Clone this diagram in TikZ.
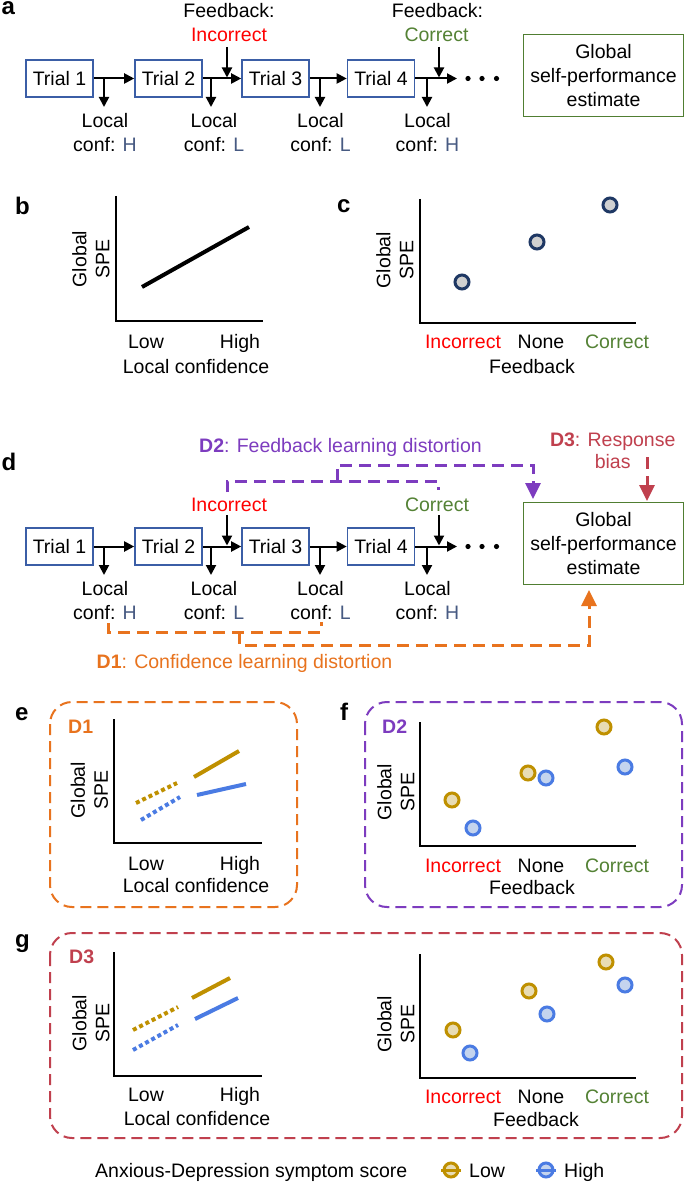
\documentclass[tikz,border=0pt]{standalone}
\usepackage{fontspec}
\setmainfont{Liberation Sans}
\usetikzlibrary{arrows.meta}
\definecolor{trialblue}{HTML}{3B5EA6}
\definecolor{hl}{HTML}{475A82}
\definecolor{fbred}{HTML}{FF0000}
\definecolor{fbgreen}{HTML}{548235}
\definecolor{gboxc}{HTML}{507E32}
\definecolor{dpurple}{HTML}{7D3CBF}
\definecolor{dorange}{HTML}{E8731E}
\definecolor{dcrimson}{HTML}{C0404E}
\definecolor{navy}{HTML}{1F3864}
\definecolor{dotgray}{HTML}{D0D0D0}
\definecolor{gold}{HTML}{BF9000}
\definecolor{goldfill}{HTML}{E8DCB4}
\definecolor{lblue}{HTML}{4A7BE3}
\definecolor{lbluefill}{HTML}{C4D4EE}
\newcommand\fs{\fontsize{19.5}{24}\selectfont}
\newcommand\fsr{\fontsize{19.5}{23}\selectfont}
\newcommand\panelfont{\fontsize{24}{28}\selectfont\bfseries}
\newcommand\trialrow[1]{%
  \node[trial] (#1t1) at (59.5,78.5) {Trial 1};
  \node[trial] (#1t2) at (168.5,78.5) {Trial 2};
  \node[trial] (#1t3) at (275.5,78.5) {Trial 3};
  \node[trial] (#1t4) at (381,78.5) {Trial 4};
  \coordinate (#1e) at (457,78.5);
  \draw[arr] (#1t1.east) -- (#1t2.west);
  \draw[arr] (#1t2.east) -- (#1t3.west);
  \draw[arr] (#1t3.east) -- (#1t4.west);
  \draw[arr] (#1t4.east) -- (#1e);
  \foreach \xx/\nn in {104/1,211/2,320/3,427/4}{
    \coordinate (#1s\nn) at (\xx,78.5);
    \coordinate (#1u\nn) at (\xx,107);
    \draw[arr] (#1s\nn) -- (#1u\nn);
  }
  \node[txt,align=center] (#1l1) at (105,133) {Local\\conf: \textcolor{hl}{H}};
  \node[txt,align=center] (#1l2) at (214,133) {Local\\conf: \textcolor{hl}{L}};
  \node[txt,align=center] (#1l3) at (320.5,133) {Local\\conf: \textcolor{hl}{L}};
  \node[txt,align=center] (#1l4) at (427.5,133) {Local\\conf: \textcolor{hl}{H}};
  \coordinate (#1fa) at (227,47);
  \coordinate (#1fb) at (227,77.5);
  \coordinate (#1fc) at (439,47);
  \coordinate (#1fd) at (439,77.5);
  \draw[arr] (#1fa) -- (#1fb);
  \draw[arr] (#1fc) -- (#1fd);
  \foreach \xx in {468,482,496.5}{\fill (\xx,78.5) circle[radius=2.6];}
  \node[gbox] (#1g) at (603.5,75.5) {Global\\self-performance\\estimate};
}
\begin{document}
\begin{tikzpicture}[x=1pt,y=-1pt,
  txt/.style={inner sep=0pt,font=\fs},
  btxt/.style={inner sep=0pt,font=\fs,anchor=base},
  rtxt/.style={inner sep=0pt,font=\fsr,align=center,rotate=90},
  plbl/.style={inner sep=0pt,font=\panelfont,anchor=base west},
  dlbl/.style={inner sep=0pt,font=\fs\bfseries,anchor=base west},
  trial/.style={draw=trialblue,line width=1.6pt,minimum width=67pt,minimum height=37pt,inner sep=0pt,font=\fs},
  gbox/.style={draw=gboxc,line width=1.8pt,minimum width=160pt,minimum height=82pt,inner sep=0pt,font=\fs,align=center},
  arr/.style={line width=2pt,-{Triangle[length=10pt,width=10pt]}},
  axln/.style={line width=2pt},
  darr/.style={line width=3pt,dash pattern=on 12pt off 7pt,-{Triangle[length=16pt,width=15pt]}},
  dline/.style={line width=3pt,dash pattern=on 12pt off 7pt},
  dbox/.style={line width=2pt,dash pattern=on 11pt off 6pt,rounded corners=22pt},
  dotmk/.style={draw=navy,fill=dotgray,line width=3pt},
  lowmk/.style={draw=gold,fill=goldfill,line width=3pt},
  highmk/.style={draw=lblue,fill=lbluefill,line width=3pt},
  lowln/.style={draw=gold,line width=4pt},
  highln/.style={draw=lblue,line width=4pt},
  dotted4/.style={dash pattern=on 4pt off 3pt}
]
\useasboundingbox (0,0) rectangle (685,1182);
\fill[white] (0,0) rectangle (685,1182);

% ---------- panel a ----------
\node[plbl] (pa) at (1.5,15) {a};
\trialrow{a}
\node[btxt] (afb1) at (229,18) {Feedback:};
\node[btxt,text=fbred] (ainc) at (229,42) {Incorrect};
\node[btxt] (afb2) at (437.5,18) {Feedback:};
\node[btxt,text=fbgreen] (acor) at (436.5,42) {Correct};

% ---------- panel b ----------
\node[plbl] (pb) at (15,215) {b};
\draw[axln] (116,196) -- (116,321) -- (263,321);
\draw[line width=4pt] (142,287) -- (249,227);
\node[rtxt] (bgspe) at (91,259) {Global\\SPE};
\node[btxt] (blow) at (146,348) {Low};
\node[btxt] (bhigh) at (240,348) {High};
\node[btxt] (blc) at (196,373) {Local confidence};

% ---------- panel c ----------
\node[plbl] (pc) at (337,213) {c};
\draw[axln] (420,199) -- (420,323) -- (636,323);
\draw[dotmk] (462,282) circle[radius=7];
\draw[dotmk] (537,242) circle[radius=7];
\draw[dotmk] (610,205) circle[radius=7];
\node[rtxt] (cgspe) at (395,260) {Global\\SPE};
\node[btxt,text=fbred] (cinc) at (463,348) {Incorrect};
\node[btxt] (cnone) at (541,348) {None};
\node[btxt,text=fbgreen] (ccor) at (617,348) {Correct};
\node[btxt] (cfb) at (532,373) {Feedback};

% ---------- panel d ----------
\node[plbl] (pd) at (1.5,470) {d};
\begin{scope}[shift={(0,468)}]
\trialrow{d}
\end{scope}
\node[btxt,text=fbred] (dinc) at (229,511) {Incorrect};
\node[btxt,text=fbgreen] (dcor) at (437,511) {Correct};
\node[btxt,text=dpurple] (d2l) at (340.5,452) {\textbf{D2}: Feedback learning distortion};
\node[btxt,text=dorange] (d1l) at (244.5,668) {\textbf{D1}: Confidence learning distortion};
\node[txt,align=center,text=dcrimson,font=\fontsize{19.5}{22.5}\selectfont] (d3l) at (612.7,451) {\textbf{D3}: Response\\bias};
\coordinate (p2a) at (227,492);
\coordinate (p2b) at (438,490);
\coordinate (p2m) at (337,481);
\coordinate (p2e) at (533,499);
\draw[dline,dpurple] (p2a) -- (227,481) -- (438,481) -- (p2b);
\draw[darr,dpurple] (p2m) -- (337,465) -- (533,465) -- (p2e);
\coordinate (p3a) at (647,457);
\coordinate (p3e) at (647,501);
\draw[darr,dcrimson] (p3a) -- (p3e);
\coordinate (p1a) at (108,623);
\coordinate (p1b) at (321,622);
\coordinate (p1m) at (239,632);
\coordinate (p1e) at (589,590);
\draw[dline,dorange] (p1a) -- (108,632) -- (321,632) -- (p1b);
\draw[darr,dorange] (p1m) -- (239,645) -- (589,645) -- (p1e);

% ---------- panel e ----------
\node[plbl] (pe) at (15,720) {e};
\draw[dbox,dorange] (50,702) rectangle (297,907);
\node[dlbl,text=dorange] (ed1) at (68,733) {D1};
\draw[axln] (114,719) -- (114,843) -- (262,843);
\draw[lowln] (194,777) -- (239,751);
\draw[highln] (197,795) -- (246,784);
\draw[lowln,dotted4] (136,803) -- (177,783);
\draw[highln,dotted4] (141,820) -- (180,797);
\node[rtxt] (egspe) at (89.5,790) {Global\\SPE};
\node[btxt] (elow) at (146,870) {Low};
\node[btxt] (ehigh) at (240,870) {High};
\node[btxt] (elc) at (196,892) {Local confidence};

% ---------- panel f ----------
\node[plbl] (pf) at (340,720) {f};
\draw[dbox,dpurple] (365,702) rectangle (682,907);
\node[dlbl,text=dpurple] (fd2) at (382,733) {D2};
\draw[axln] (420,722) -- (420,846) -- (636,846);
\draw[lowmk] (452,800) circle[radius=7];
\draw[lowmk] (528,773) circle[radius=7];
\draw[lowmk] (604,727) circle[radius=7];
\draw[highmk] (473,828) circle[radius=7];
\draw[highmk] (546,778) circle[radius=7];
\draw[highmk] (625,767) circle[radius=7];
\node[rtxt] (fgspe) at (396,792) {Global\\SPE};
\node[btxt,text=fbred] (finc) at (463,872) {Incorrect};
\node[btxt] (fnone) at (541,872) {None};
\node[btxt,text=fbgreen] (fcor) at (617,872) {Correct};
\node[btxt] (ffb) at (532,894) {Feedback};

% ---------- panel g ----------
\node[plbl] (pg) at (15,947) {g};
\draw[dbox,dcrimson] (50,933) rectangle (682,1138);
\node[dlbl,text=dcrimson] (gd3) at (69,963) {D3};
\draw[axln] (114,952) -- (114,1076) -- (262,1076);
\draw[lowln] (192,998) -- (230,978);
\draw[highln] (195,1019) -- (238,998);
\draw[lowln,dotted4] (133,1030) -- (178,1007);
\draw[highln,dotted4] (133,1050) -- (178,1025);
\node[rtxt] (ggspe) at (91,1023) {Global\\SPE};
\node[btxt] (glow) at (146,1101) {Low};
\node[btxt] (ghigh) at (240,1101) {High};
\node[btxt] (glc) at (197,1125) {Local confidence};
\draw[axln] (420,954) -- (420,1078) -- (636,1078);
\draw[lowmk] (453,1030) circle[radius=7];
\draw[lowmk] (529,991) circle[radius=7];
\draw[lowmk] (606,962) circle[radius=7];
\draw[highmk] (470,1053) circle[radius=7];
\draw[highmk] (547,1014) circle[radius=7];
\draw[highmk] (625,985) circle[radius=7];
\node[rtxt] (g2gspe) at (396,1024) {Global\\SPE};
\node[btxt,text=fbred] (ginc) at (463,1103) {Incorrect};
\node[btxt] (gnone) at (541,1103) {None};
\node[btxt,text=fbgreen] (gcor) at (617,1103) {Correct};
\node[btxt] (gfb) at (536,1126) {Feedback};

% ---------- legend ----------
\node[txt,anchor=base west] (leg) at (95,1177) {Anxious-Depression symptom score};
\draw[lowmk] (451,1170) circle[radius=7];
\draw[gold,line width=3pt] (441,1170) -- (461,1170);
\node[txt,anchor=base west] (leglow) at (469,1177) {Low};
\draw[highmk] (546,1170) circle[radius=7];
\draw[lblue,line width=3pt] (536,1170) -- (556,1170);
\node[txt,anchor=base west] (leghigh) at (564,1177) {High};
\end{tikzpicture}
\end{document}
